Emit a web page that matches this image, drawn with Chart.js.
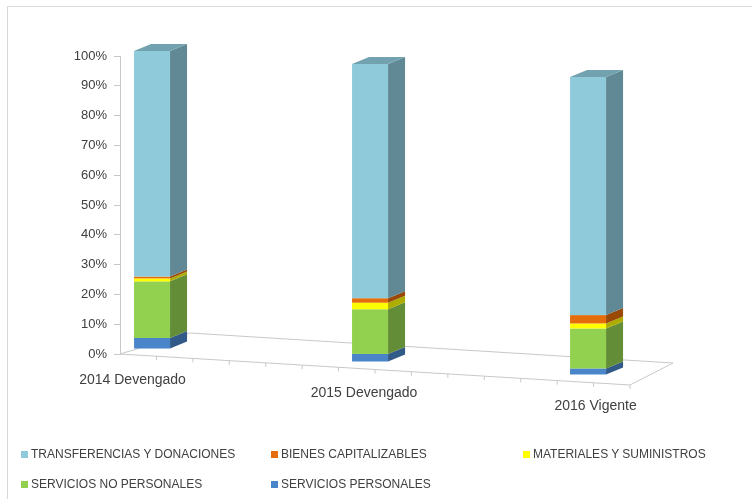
<!DOCTYPE html>
<html>
<head>
<meta charset="utf-8">
<script src="https://cdn.jsdelivr.net/npm/chart.js@4.4.1/dist/chart.umd.min.js"></script>
<style>
  html, body { margin: 0; padding: 0; background: #fff; }
  #wrap { position: relative; width: 752px; height: 499px; overflow: hidden; }
  #frame { position: absolute; left: 7px; top: 6px; width: 750px; height: 500px; border: 1px solid #d9d9d9; }
  canvas { position: absolute; left: 0; top: 0; }
  #legend { position: absolute; left: 0; top: 0; width: 752px; height: 499px; pointer-events: none;
            font-family: "Liberation Sans", Arial, sans-serif; font-size: 12px; color: #404040; }
  .item { position: absolute; white-space: nowrap; line-height: 14px; }
  .item i { position: absolute; left: -10px; top: 3.5px; width: 7px; height: 7px; }
</style>
</head>
<body>
<div id="wrap">
  <div id="frame"></div>
  <canvas id="chart" width="752" height="499"></canvas>
  <div id="legend"></div>
</div>
<script>
// data (share of total, %)
const categories = ['2014 Devengado', '2015 Devengado', '2016 Vigente'];
const serviciosPersonales = [3.7, 2.7, 2.2];
const serviciosNoPersonales = [19.0, 15.0, 13.4];
const materialesSuministros = [1.0, 2.2, 1.7];
const bienesCapitalizables = [0.6, 1.5, 2.8];
const transferencias = [75.7, 78.6, 79.9];
const yTicks = [0, 10, 20, 30, 40, 50, 60, 70, 80, 90, 100];

const FONT = '"Liberation Sans", Arial, sans-serif';

// 3d look: perspective drop to the right, depth of the bars
const SLOPE = 0.0596, LIFT = 6.9, DX = 17, DY = -7;

function shade(hex, f) {
  const n = parseInt(hex.slice(1), 16);
  const c = [n >> 16, (n >> 8) & 255, n & 255].map(v => Math.round(v * f));
  return 'rgb(' + c.join(',') + ')';
}

function poly(ctx, pts, fill) {
  ctx.beginPath();
  ctx.moveTo(pts[0][0], pts[0][1]);
  for (let k = 1; k < pts.length; k++) ctx.lineTo(pts[k][0], pts[k][1]);
  ctx.closePath();
  ctx.fillStyle = fill;
  ctx.fill();
}

const bars3d = {
  id: 'bars3d',
  beforeDatasetsDraw(chart) {
    const ctx = chart.ctx, a = chart.chartArea;
    ctx.save();

    // floor of the 3d box
    const FL = [a.left, a.bottom], FR = [a.left + 510, a.bottom + 31];
    const BR = [a.left + 553, a.bottom + 9], BL = [a.left + 70, a.bottom - 21];
    ctx.strokeStyle = '#c8c8c8';
    ctx.lineWidth = 1;
    ctx.beginPath();
    ctx.moveTo(BL[0], BL[1]); ctx.lineTo(BR[0], BR[1]); ctx.lineTo(FR[0], FR[1]); ctx.lineTo(FL[0], FL[1]); ctx.lineTo(BL[0], BL[1]);
    for (let k = 1; k <= 14; k++) {
      const px = FL[0] + (FR[0] - FL[0]) * k / 14, py = FL[1] + (FR[1] - FL[1]) * k / 14;
      ctx.moveTo(px, py); ctx.lineTo(px, py + 4);
    }
    ctx.stroke();

    const n = chart.data.datasets.length;
    const bottoms = [];
    chart.data.datasets.forEach((ds, di) => {
      const meta = chart.getDatasetMeta(di);
      meta.data.forEach((bar, i) => {
        const p = bar.getProps(['x', 'y', 'base', 'width'], true);
        const dy = (p.x - a.left) * SLOPE - LIFT;
        const l = p.x - p.width / 2, r = p.x + p.width / 2;
        const t = p.y + dy, b = p.base + dy;
        if (di === 0) bottoms[i] = { x: p.x, y: b };
        ctx.fillStyle = ds.backgroundColor;
        ctx.fillRect(l, t, p.width, b - t);
        poly(ctx, [[r, t], [r + DX, t + DY], [r + DX, b + DY], [r, b]], shade(ds.backgroundColor, 0.68));
        if (di === n - 1) {
          poly(ctx, [[l, t], [l + DX, t + DY], [r + DX, t + DY], [r, t]], shade(ds.backgroundColor, 0.8));
        }
      });
    });

    // category labels follow the tilted floor
    ctx.fillStyle = '#404040';
    ctx.font = '14px ' + FONT;
    ctx.textAlign = 'center';
    ctx.textBaseline = 'middle';
    categories.forEach((c, i) => {
      const bt = bottoms[i];
      if (bt) ctx.fillText(c, bt.x - 6 + (bt.x - a.left - 250) * 0.062, bt.y + 32);
    });
    ctx.restore();
    return false;
  }
};

const series = [
  { label: 'SERVICIOS PERSONALES', data: serviciosPersonales, color: '#4a84c9' },
  { label: 'SERVICIOS NO PERSONALES', data: serviciosNoPersonales, color: '#92d050' },
  { label: 'MATERIALES Y SUMINISTROS', data: materialesSuministros, color: '#ffff00' },
  { label: 'BIENES CAPITALIZABLES', data: bienesCapitalizables, color: '#e46c0a' },
  { label: 'TRANSFERENCIAS Y DONACIONES', data: transferencias, color: '#8fcadb' }
];

const chart = new Chart(document.getElementById('chart'), {
  type: 'bar',
  data: {
    datasets: series.map(s => ({
      label: s.label,
      data: s.data.map((v, i) => ({ x: i, y: v })),
      backgroundColor: s.color,
      barThickness: 36
    }))
  },
  options: {
    responsive: false,
    animation: false,
    layout: { padding: { top: 56, bottom: 145, left: 0, right: 92 } },
    plugins: { legend: { display: false }, tooltip: { enabled: false } },
    scales: {
      x: {
        type: 'linear',
        stacked: true,
        display: false,
        offset: false,
        min: -0.147,
        max: 2.33
      },
      y: {
        stacked: true,
        min: 0,
        max: 100,
        afterBuildTicks: s => { s.ticks = yTicks.map(v => ({ value: v })); },
        afterFit: s => { s.width = 120; },
        ticks: {
          callback: v => v + '%',
          color: '#404040',
          padding: 7,
          font: { family: FONT, size: 13 }
        },
        grid: { drawOnChartArea: false, drawTicks: true, tickLength: 6, color: '#c8c8c8' },
        border: { color: '#c8c8c8' }
      }
    }
  },
  plugins: [bars3d]
});

// legend laid out in the same grid as the picture
const legendPos = [[31, 454], [281, 454], [533, 454], [31, 484], [281, 484]];
const legendEl = document.getElementById('legend');
chart.data.datasets.slice().reverse().forEach((ds, k) => {
  const d = document.createElement('div');
  d.className = 'item';
  d.style.left = legendPos[k][0] + 'px';
  d.style.top = (legendPos[k][1] - 7) + 'px';
  d.innerHTML = '<i style="background:' + ds.backgroundColor + '"></i>' + ds.label;
  legendEl.appendChild(d);
});
</script>
</body>
</html>
